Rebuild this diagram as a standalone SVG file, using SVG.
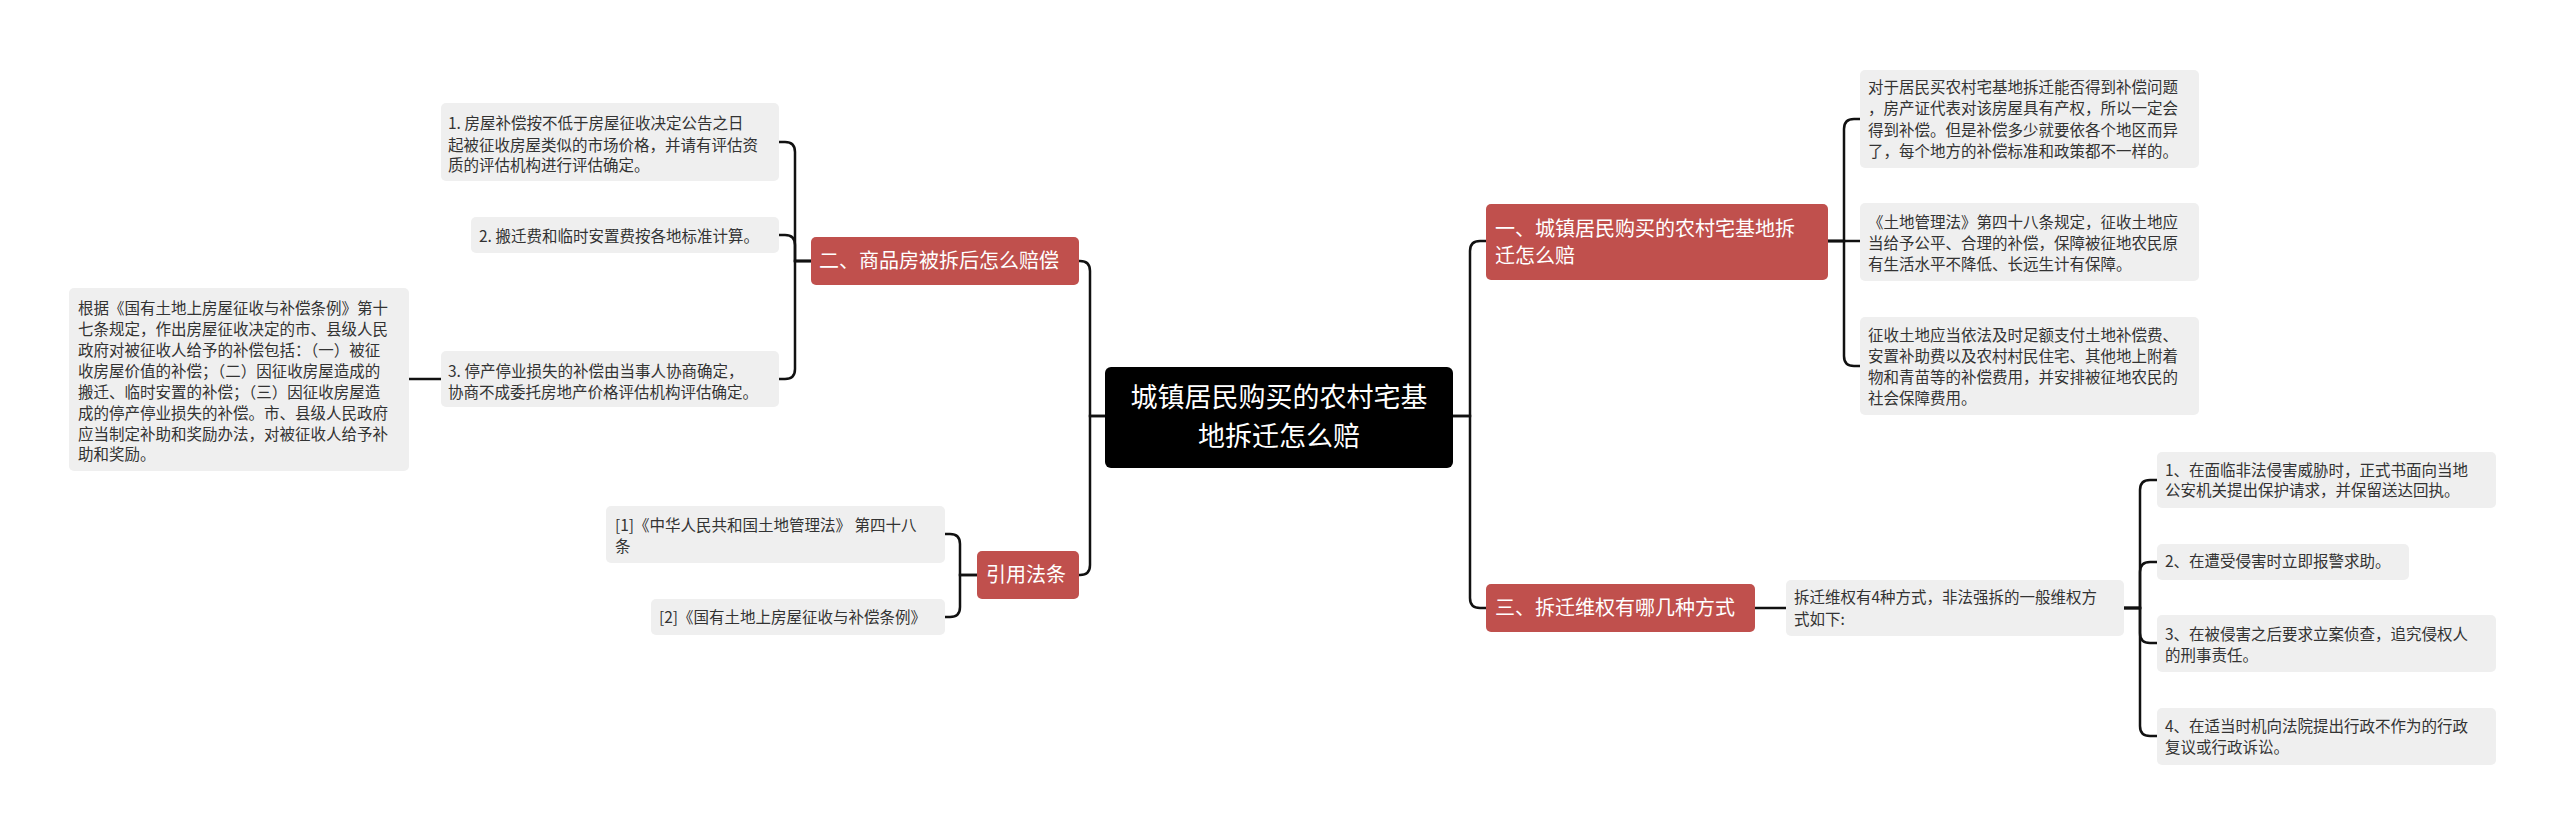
<svg xmlns="http://www.w3.org/2000/svg" width="2560" height="831" viewBox="0 0 2560 831">
<style>
text{font-family:"Noto Sans CJK SC","Noto Sans",sans-serif}
.leaf rect{fill:#efefef}
.leaf text{font-size:15.5px;fill:#333}
.red rect{fill:#c0504d}
.red text{font-size:20px;fill:#fff}
.root rect{fill:#000}
.root text{font-size:27px;fill:#fff;text-anchor:middle}
#connectors path{fill:none;stroke:#111;stroke-width:2.5}
</style>
<rect width="2560" height="831" fill="#fff"/>
<g id="connectors">
<path d="M1453 416 H1470 V251 Q1470 241 1480 241 H1486"/>
<path d="M1453 416 H1470 V598 Q1470 608 1480 608 H1486"/>
<path d="M1828 241 H1844 V129 Q1844 119 1854 119 H1860"/>
<path d="M1828 241 H1860"/>
<path d="M1828 241 H1844 V356 Q1844 366 1854 366 H1860"/>
<path d="M1755 608 H1786"/>
<path d="M2124 608 H2140 V490 Q2140 480 2150 480 H2157"/>
<path d="M2124 608 H2140 V572 Q2140 562 2150 562 H2157"/>
<path d="M2124 608 H2140 V633 Q2140 643 2150 643 H2157"/>
<path d="M2124 608 H2140 V726 Q2140 736 2150 736 H2157"/>
<path d="M1105 416 H1090 V271 Q1090 261 1080 261 H1079"/>
<path d="M1105 416 H1090 V565 Q1090 575 1080 575 H1079"/>
<path d="M811 261 H795 V152 Q795 142 785 142 H779"/>
<path d="M811 261 H795 V245 Q795 235 785 235 H779"/>
<path d="M811 261 H795 V369 Q795 379 785 379 H779"/>
<path d="M441 379 H409"/>
<path d="M977 575 H960 V544 Q960 534 950 534 H945"/>
<path d="M977 575 H960 V607 Q960 617 950 617 H945"/>
</g>
<g id="root" class="root"><rect x="1105" y="367" width="348" height="101" rx="6"/><text x="1279" y="407">城镇居民购买的农村宅基</text><text x="1279" y="446">地拆迁怎么赔</text></g>
<g id="n1" class="red"><rect x="1486" y="204" width="342" height="76" rx="5"/><text x="1495" y="236">一、城镇居民购买的农村宅基地拆</text><text x="1495" y="263">迁怎么赔</text></g>
<g id="n1a" class="leaf"><rect x="1860" y="70" width="339" height="98" rx="5"/><text x="1868" y="93">对于居民买农村宅基地拆迁能否得到补偿问题</text><text x="1868" y="114">，房产证代表对该房屋具有产权，所以一定会</text><text x="1868" y="136">得到补偿。但是补偿多少就要依各个地区而异</text><text x="1868" y="157">了，每个地方的补偿标准和政策都不一样的。</text></g>
<g id="n1b" class="leaf"><rect x="1860" y="203" width="339" height="78" rx="5"/><text x="1868" y="228">《土地管理法》第四十八条规定，征收土地应</text><text x="1868" y="249">当给予公平、合理的补偿，保障被征地农民原</text><text x="1868" y="270">有生活水平不降低、长远生计有保障。</text></g>
<g id="n1c" class="leaf"><rect x="1860" y="317" width="339" height="98" rx="5"/><text x="1868" y="341">征收土地应当依法及时足额支付土地补偿费、</text><text x="1868" y="362">安置补助费以及农村村民住宅、其他地上附着</text><text x="1868" y="383">物和青苗等的补偿费用，并安排被征地农民的</text><text x="1868" y="404">社会保障费用。</text></g>
<g id="n3" class="red"><rect x="1486" y="584" width="269" height="48" rx="5"/><text x="1495" y="615">三、拆迁维权有哪几种方式</text></g>
<g id="n3a" class="leaf"><rect x="1786" y="580" width="338" height="56" rx="5"/><text x="1794" y="603">拆迁维权有4种方式，非法强拆的一般维权方</text><text x="1794" y="625">式如下:</text></g>
<g id="n3a1" class="leaf"><rect x="2157" y="452" width="339" height="56" rx="5"/><text x="2165" y="476">1、在面临非法侵害威胁时，正式书面向当地</text><text x="2165" y="496">公安机关提出保护请求，并保留送达回执。</text></g>
<g id="n3a2" class="leaf"><rect x="2157" y="544" width="252" height="36" rx="5"/><text x="2165" y="567">2、在遭受侵害时立即报警求助。</text></g>
<g id="n3a3" class="leaf"><rect x="2157" y="615" width="339" height="57" rx="5"/><text x="2165" y="640">3、在被侵害之后要求立案侦查，追究侵权人</text><text x="2165" y="661">的刑事责任。</text></g>
<g id="n3a4" class="leaf"><rect x="2157" y="708" width="339" height="57" rx="5"/><text x="2165" y="732">4、在适当时机向法院提出行政不作为的行政</text><text x="2165" y="753">复议或行政诉讼。</text></g>
<g id="n2" class="red"><rect x="811" y="237" width="268" height="48" rx="5"/><text x="819" y="268">二、商品房被拆后怎么赔偿</text></g>
<g id="n2a" class="leaf"><rect x="441" y="103" width="338" height="78" rx="5"/><text x="448" y="129">1. 房屋补偿按不低于房屋征收决定公告之日</text><text x="448" y="151">起被征收房屋类似的市场价格，并请有评估资</text><text x="448" y="171">质的评估机构进行评估确定。</text></g>
<g id="n2b" class="leaf"><rect x="471" y="217" width="308" height="36" rx="5"/><text x="479" y="242">2. 搬迁费和临时安置费按各地标准计算。</text></g>
<g id="n2c" class="leaf"><rect x="441" y="351" width="338" height="56" rx="5"/><text x="448" y="377">3. 停产停业损失的补偿由当事人协商确定，</text><text x="448" y="398">协商不成委托房地产价格评估机构评估确定。</text></g>
<g id="n2c1" class="leaf"><rect x="69" y="288" width="340" height="183" rx="5"/><text x="78" y="314">根据《国有土地上房屋征收与补偿条例》第十</text><text x="78" y="335">七条规定，作出房屋征收决定的市、县级人民</text><text x="78" y="356">政府对被征收人给予的补偿包括：（一）被征</text><text x="78" y="377">收房屋价值的补偿；（二）因征收房屋造成的</text><text x="78" y="398">搬迁、临时安置的补偿；（三）因征收房屋造</text><text x="78" y="419">成的停产停业损失的补偿。市、县级人民政府</text><text x="78" y="440">应当制定补助和奖励办法，对被征收人给予补</text><text x="78" y="460">助和奖励。</text></g>
<g id="n4" class="red"><rect x="977" y="551" width="102" height="48" rx="5"/><text x="986" y="582">引用法条</text></g>
<g id="n4a" class="leaf"><rect x="606" y="506" width="339" height="57" rx="5"/><text x="615" y="531">[1]《中华人民共和国土地管理法》 第四十八</text><text x="615" y="552">条</text></g>
<g id="n4b" class="leaf"><rect x="651" y="599" width="294" height="36" rx="5"/><text x="659" y="623">[2]《国有土地上房屋征收与补偿条例》</text></g>
</svg>
